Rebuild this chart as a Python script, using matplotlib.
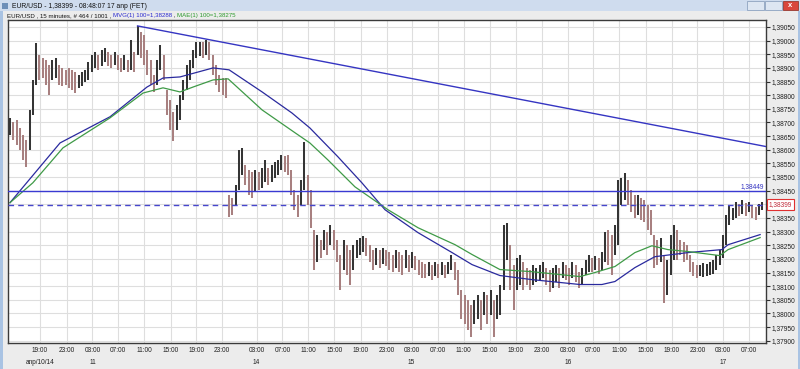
import matplotlib.pyplot as plt
from matplotlib.patches import Rectangle
from matplotlib.transforms import blended_transform_factory
import numpy as np

plt.rcParams['font.family'] = ['Liberation Sans', 'DejaVu Sans']

# EUR/USD bars (30 min each)
highs = [1.38717, 1.38702, 1.38710, 1.38680, 1.38655, 1.38636, 1.38746, 1.38856, 1.38991, 1.38947,
         1.38936, 1.38929, 1.38911, 1.38929, 1.38936, 1.38911, 1.38900, 1.38893, 1.38900, 1.38893,
         1.38885, 1.38874, 1.38885, 1.38893, 1.38922, 1.38947, 1.38958, 1.38947, 1.38966, 1.38973,
         1.38958, 1.38947, 1.38958, 1.38947, 1.38936, 1.38947, 1.38929, 1.39002, 1.38958, 1.39054,
         1.39032, 1.39021, 1.38966, 1.38929, 1.38874, 1.38929, 1.38984, 1.38947, 1.38819, 1.38783,
         1.38739, 1.38764, 1.38801, 1.38856, 1.38911, 1.38929, 1.38966, 1.38995, 1.38995, 1.38995,
         1.39002, 1.38995, 1.38947, 1.38911, 1.38874, 1.38863, 1.38863, 1.38435, 1.38424, 1.38472,
         1.38600, 1.38607, 1.38545, 1.38527, 1.38519, 1.38527, 1.38519, 1.38534, 1.38563, 1.38534,
         1.38545, 1.38556, 1.38563, 1.38582, 1.38578, 1.38582, 1.38527, 1.38453, 1.38435, 1.38490,
         1.38629, 1.38508, 1.38453, 1.38307, 1.38289, 1.38270, 1.38307, 1.38300, 1.38325, 1.38307,
         1.38270, 1.38216, 1.38270, 1.38252, 1.38234, 1.38252, 1.38270, 1.38278, 1.38285, 1.38278,
         1.38252, 1.38234, 1.38241, 1.38234, 1.38241, 1.38234, 1.38227, 1.38216, 1.38234, 1.38227,
         1.38216, 1.38234, 1.38216, 1.38227, 1.38212, 1.38197, 1.38190, 1.38183, 1.38190, 1.38179,
         1.38190, 1.38183, 1.38190, 1.38179, 1.38190, 1.38216, 1.38190, 1.38161, 1.38087, 1.38069,
         1.38051, 1.38032, 1.38051, 1.38069, 1.38051, 1.38080, 1.38069, 1.38087, 1.38051, 1.38069,
         1.38106, 1.38325, 1.38332, 1.38252, 1.38179, 1.38205, 1.38216, 1.38190, 1.38168, 1.38161,
         1.38179, 1.38168, 1.38179, 1.38190, 1.38168, 1.38161, 1.38168, 1.38179, 1.38168, 1.38190,
         1.38179, 1.38168, 1.38190, 1.38179, 1.38153, 1.38168, 1.38197, 1.38216, 1.38205, 1.38212,
         1.38205, 1.38227, 1.38300, 1.38307, 1.38289, 1.38325, 1.38490, 1.38497, 1.38516, 1.38490,
         1.38453, 1.38435, 1.38435, 1.38424, 1.38417, 1.38399, 1.38380, 1.38289, 1.38270, 1.38278,
         1.38216, 1.38197, 1.38289, 1.38325, 1.38307, 1.38270, 1.38263, 1.38252, 1.38216, 1.38190,
         1.38179, 1.38179, 1.38186, 1.38183, 1.38190, 1.38197, 1.38216, 1.38234, 1.38289, 1.38362,
         1.38399, 1.38388, 1.38410, 1.38402, 1.38417, 1.38406, 1.38410, 1.38399, 1.38391, 1.38402,
         1.38410]
lows = [1.38655, 1.38636, 1.38618, 1.38600, 1.38563, 1.38537, 1.38600, 1.38728, 1.38838, 1.38856,
        1.38863, 1.38838, 1.38801, 1.38856, 1.38863, 1.38838, 1.38834, 1.38838, 1.38827, 1.38819,
        1.38808, 1.38827, 1.38834, 1.38849, 1.38856, 1.38885, 1.38900, 1.38893, 1.38907, 1.38922,
        1.38907, 1.38900, 1.38911, 1.38893, 1.38885, 1.38893, 1.38885, 1.38893, 1.38885, 1.38947,
        1.38936, 1.38911, 1.38874, 1.38838, 1.38812, 1.38838, 1.38893, 1.38856, 1.38728, 1.38673,
        1.38633, 1.38673, 1.38710, 1.38783, 1.38819, 1.38856, 1.38900, 1.38936, 1.38943, 1.38936,
        1.38947, 1.38929, 1.38874, 1.38838, 1.38812, 1.38801, 1.38790, 1.38355, 1.38362, 1.38399,
        1.38453, 1.38508, 1.38472, 1.38435, 1.38424, 1.38446, 1.38453, 1.38461, 1.38483, 1.38472,
        1.38483, 1.38497, 1.38508, 1.38527, 1.38519, 1.38508, 1.38435, 1.38380, 1.38355, 1.38399,
        1.38453, 1.38399, 1.38314, 1.38161, 1.38190, 1.38205, 1.38234, 1.38216, 1.38252, 1.38234,
        1.38190, 1.38087, 1.38161, 1.38142, 1.38106, 1.38161, 1.38205, 1.38216, 1.38227, 1.38212,
        1.38190, 1.38161, 1.38179, 1.38168, 1.38183, 1.38175, 1.38161, 1.38153, 1.38168, 1.38153,
        1.38142, 1.38168, 1.38153, 1.38168, 1.38161, 1.38142, 1.38131, 1.38131, 1.38139, 1.38124,
        1.38139, 1.38131, 1.38142, 1.38131, 1.38146, 1.38161, 1.38124, 1.38069, 1.37978, 1.37960,
        1.37941, 1.37912, 1.37960, 1.37978, 1.37941, 1.37996, 1.37960, 1.37996, 1.37915, 1.37978,
        1.37996, 1.38087, 1.38197, 1.38087, 1.38014, 1.38087, 1.38106, 1.38087, 1.38106, 1.38087,
        1.38106, 1.38117, 1.38124, 1.38131, 1.38106, 1.38080, 1.38095, 1.38117, 1.38095, 1.38131,
        1.38124, 1.38106, 1.38131, 1.38117, 1.38095, 1.38106, 1.38142, 1.38153, 1.38153, 1.38161,
        1.38146, 1.38161, 1.38190, 1.38179, 1.38142, 1.38216, 1.38252, 1.38399, 1.38417, 1.38399,
        1.38373, 1.38351, 1.38362, 1.38344, 1.38336, 1.38307, 1.38289, 1.38168, 1.38179, 1.38190,
        1.38040, 1.38069, 1.38142, 1.38197, 1.38197, 1.38216, 1.38190, 1.38197, 1.38153, 1.38139,
        1.38131, 1.38139, 1.38135, 1.38139, 1.38142, 1.38146, 1.38161, 1.38179, 1.38205, 1.38252,
        1.38325, 1.38344, 1.38351, 1.38358, 1.38366, 1.38358, 1.38373, 1.38351, 1.38344, 1.38362,
        1.38380]

# moving averages (bar index, value)
mvg_idx = [0, 15.3, 30.6, 41.9, 46.8, 52, 62.1, 67, 77.1, 86.2, 91.7, 100.3, 107.6, 114.7,
           124.8, 135.2, 141.3, 149.8, 159.6, 174.3, 181, 185, 191.1, 197.2, 207.3, 217.7, 219.6, 229.4]
mvg_val = [1.38406, 1.38625, 1.38721, 1.38830, 1.38863, 1.38867, 1.38900, 1.38893, 1.38812, 1.38735,
           1.38680, 1.38574, 1.38479, 1.38380, 1.38296, 1.38223, 1.38179, 1.38139, 1.38124, 1.38106,
           1.38106, 1.38117, 1.38168, 1.38208, 1.38223, 1.38234, 1.38252, 1.38289]
mae_idx = [0, 7, 16.2, 30.6, 40.7, 46.8, 52, 56, 62.1, 66.7, 77.1, 87.2, 91.7, 97.2, 105.5, 115.6,
           124.8, 136.1, 141.3, 149.8, 159.6, 174.3, 178.9, 185, 191.1, 196.3, 201.2, 207.3, 217.1, 219.6, 229.4]
mae_val = [1.38406, 1.38479, 1.38607, 1.38717, 1.38808, 1.38827, 1.38812, 1.38830, 1.38856, 1.38860,
           1.38746, 1.38662, 1.38625, 1.38563, 1.38464, 1.38380, 1.38314, 1.38252, 1.38216, 1.38161,
           1.38153, 1.38135, 1.38150, 1.38172, 1.38223, 1.38248, 1.38234, 1.38227, 1.38212, 1.38234, 1.38278]

trend_idx = [39, 231.1]
trend_val = [1.39054, 1.38612]
resist = 1.38449
last_price = 1.38399

tick_pos = [9.2, 17.3, 25.2, 33.1, 41.1, 49.1, 57.0, 64.9, 75.4, 83.3, 91.2, 99.2, 107.2, 115.2,
            122.8, 130.8, 138.8, 146.8, 154.7, 162.6, 170.6, 178.4, 186.3, 194.4, 202.4, 210.2, 218.1, 226.0]
tick_labels = ['19:00\nanp/10/14', '23:00', '03:00\n11', '07:00', '11:00', '15:00', '19:00', '23:00',
               '03:00\n14', '07:00', '11:00', '15:00', '19:00', '23:00',
               '03:00\n15', '07:00', '11:00', '15:00', '19:00', '23:00',
               '03:00\n16', '07:00', '11:00', '15:00', '19:00', '23:00',
               '03:00\n17', '07:00']

W, H = 800, 369
fig = plt.figure(figsize=(W / 100, H / 100), dpi=100, facecolor='#ececec')


def px_rect(x, y, w, h, **kw):
    fig.add_artist(Rectangle((x / W, 1 - (y + h) / H), w / W, h / H,
                             transform=fig.transFigure, **kw))


def px_text(x, y, s, **kw):
    return fig.text(x / W, 1 - y / H, s, va='center', **kw)


# window chrome
px_rect(0, 0, 800, 11, color='#cfdcee', lw=0)
px_rect(0, 11, 3, 358, color='#a9c3e3', lw=0)
px_rect(798, 11, 2, 358, color='#a9c3e3', lw=0)
px_rect(747, 1, 17, 9, fc='#dde6f2', ec='#8fa3bf', lw=0.6)
px_rect(765, 1, 17, 9, fc='#dde6f2', ec='#8fa3bf', lw=0.6)
px_rect(783, 1, 15, 9, fc='#d9473d', ec='#9a3a30', lw=0.6)
px_text(790.5, 5.5, 'x', color='white', fontsize=5.5, ha='center', fontweight='bold')
px_rect(2, 3, 6, 6, fc='#6d8fb8', lw=0)
px_text(12, 6, 'EUR/USD - 1,38399 - 08:48:07 17 anp (FET)', fontsize=4.9, color='#111111')

# header line, pieces chained one after another
renderer = fig.canvas.get_renderer()
hx = 7
for piece, c in [('EUR/USD , 15 minutes, # 464 / 1001 , ', '#111111'),
                 ('MVG(1) 100=1,38288', '#2a2ad0'), (' , ', '#111111'),
                 ('MAE(1) 100=1,38275', '#2c9a2c')]:
    t = px_text(hx, 16, piece, fontsize=4.4, color=c)
    hx += t.get_window_extent(renderer).width

ax = fig.add_axes([7.7 / W, 26 / H, 758 / W, 323 / H])
ax.set_facecolor('white')

idx = np.arange(len(highs))
mids = (np.array(highs) + np.array(lows)) / 2
cols = ['#353535' if i == 0 or mids[i] >= mids[i - 1] else '#a88080' for i in idx]
ax.vlines(idx, lows, highs, colors=cols, linewidth=1.45, zorder=3)

ax.plot(mvg_idx, mvg_val, color='#2a2a9e', lw=0.9, zorder=4)
ax.plot(mae_idx, mae_val, color='#3f9a47', lw=0.9, zorder=4)
ax.plot(trend_idx, trend_val, color='#3535c2', lw=1.0, zorder=4)
ax.axhline(resist, color='#3a3ad2', lw=1.0, zorder=4)
ax.axhline(last_price, color='#4646cc', lw=1.0, ls=(0, (4, 3)), zorder=4)
ax.text(230.6, resist + 0.00002, '1,38449', ha='right', va='bottom', fontsize=4.7, color='#3030c0')

yt = np.arange(1.37900, 1.39051, 0.0005)
ax.set_yticks(yt)
ax.set_yticklabels(['' if abs(v - last_price) < 0.0002 else f'{v:.5f}'.replace('.', ',') for v in yt])
ax.yaxis.tick_right()
ax.tick_params(axis='y', length=3, width=0.8, color='#303030', labelsize=4.8, pad=1, labelcolor='#202020')
ax.set_xticks(tick_pos)
ax.set_xticklabels(tick_labels, linespacing=1.9)
ax.tick_params(axis='x', length=0, labelsize=4.7, pad=3, labelcolor='#202020')
ax.grid(color='#dedede', linewidth=0.8)
ax.set_axisbelow(True)
for s in ax.spines.values():
    s.set_color('#3a3a3a')
    s.set_linewidth(1.0)

trans = blended_transform_factory(ax.transAxes, ax.transData)
ax.text(1.004, last_price, '1,38399', transform=trans, ha='left', va='center', fontsize=4.7,
        color='#c02838', clip_on=False,
        bbox=dict(boxstyle='square,pad=0.25', fc='white', ec='#e03030', lw=0.8))

ax.set_xlim(-0.7, 231.1)
ax.set_ylim(1.378916, 1.390757)

fig.savefig('out.png', dpi=100, facecolor=fig.get_facecolor())
